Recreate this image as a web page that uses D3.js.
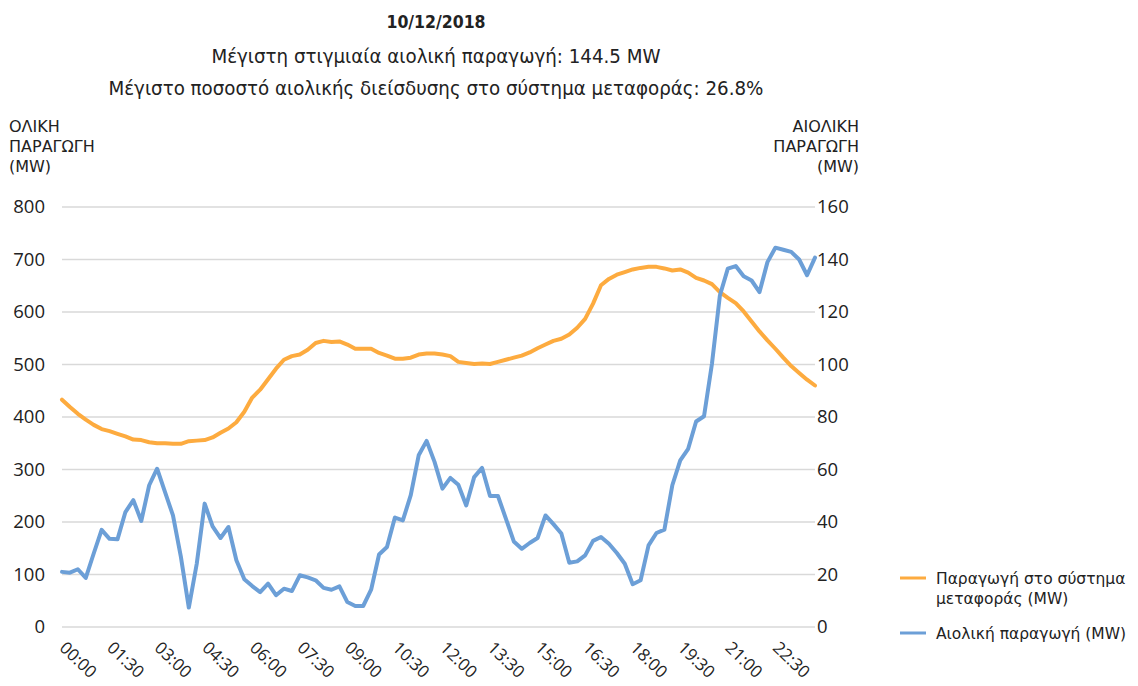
<!DOCTYPE html>
<html>
<head>
<meta charset="utf-8">
<script src="https://cdn.jsdelivr.net/npm/d3@7"></script>
<style>
  html, body { margin: 0; padding: 0; background: #fff; }
  svg { display: block; }
</style>
</head>
<body>
<svg id="chart" width="1138" height="686"></svg>
<script>
// ---------- DATA ----------
const times = [
"00:00","00:15","00:30","00:45","01:00","01:15","01:30","01:45","02:00","02:15","02:30","02:45",
"03:00","03:15","03:30","03:45","04:00","04:15","04:30","04:45","05:00","05:15","05:30","05:45",
"06:00","06:15","06:30","06:45","07:00","07:15","07:30","07:45","08:00","08:15","08:30","08:45",
"09:00","09:15","09:30","09:45","10:00","10:15","10:30","10:45","11:00","11:15","11:30","11:45",
"12:00","12:15","12:30","12:45","13:00","13:15","13:30","13:45","14:00","14:15","14:30","14:45",
"15:00","15:15","15:30","15:45","16:00","16:15","16:30","16:45","17:00","17:15","17:30","17:45",
"18:00","18:15","18:30","18:45","19:00","19:15","19:30","19:45","20:00","20:15","20:30","20:45",
"21:00","21:15","21:30","21:45","22:00","22:15","22:30","22:45","23:00","23:15","23:30","23:45"];

const tickLabels = ["00:00","01:30","03:00","04:30","06:00","07:30","09:00","10:30",
                    "12:00","13:30","15:00","16:30","18:00","19:30","21:00","22:30"];

const totalMW = [433,419,406,395,385,377,373,368,363,357,356,352,350,350,349,349,
354,355,356,361,370,378,390,410,437,452,472,492,509,516,519,528,
541,545,543,544,538,530,530,530,522,517,511,511,513,519,521,521,
519,516,505,503,501,502,501,505,509,513,517,523,531,538,545,549,
557,570,587,616,651,663,671,676,681,684,686,686,683,679,681,675,
665,660,653,638,627,617,601,582,563,546,530,513,497,484,471,460];

const windMW = [21,20.7,22,18.7,28,37,33.6,33.4,43.8,48.3,40.4,54,60.3,51.4,42.5,26.7,
7.4,24.1,47,38.3,33.9,38.1,25.4,18.2,15.6,13.3,16.5,12.1,14.6,13.7,19.7,18.9,
17.8,14.9,14.2,15.5,9.5,8.0,8.0,14.2,27.6,30.5,41.7,40.6,50.2,65.4,70.9,62.9,
52.7,56.8,54.2,46.3,57.1,60.6,49.9,49.9,41.3,32.6,29.8,32,33.9,42.5,39.2,35.6,
24.5,25,27.3,32.8,34.3,31.7,28.2,24.1,16.3,17.8,31.1,35.8,37.1,54,63.5,67.9,
78.3,80.3,100.3,126.3,136.5,137.5,133.6,132,127.6,139,144.5,143.7,142.9,140,134,140.7];

const leftTicks = [0,100,200,300,400,500,600,700,800];
const rightTicks = [0,20,40,60,80,100,120,140,160];

const titleLines = ["10/12/2018",
  "Μέγιστη στιγμιαία αιολική παραγωγή: 144.5 MW",
  "Μέγιστο ποσοστό αιολικής διείσδυσης στο σύστημα μεταφοράς: 26.8%"];
const leftAxisTitle = ["ΟΛΙΚΗ","ΠΑΡΑΓΩΓΗ","(MW)"];
const rightAxisTitle = ["ΑΙΟΛΙΚΗ","ΠΑΡΑΓΩΓΗ","(MW)"];
const legendItems = [
  {lines:["Παραγωγή στο σύστημα","μεταφοράς (MW)"], color:"#FDAB3F"},
  {lines:["Αιολική παραγωγή (MW)"], color:"#6C9FD7"}
];

// ---------- CHART ----------
const svg = d3.select("#chart");
const bodyFont = "'Open Sans', 'DejaVu Sans', sans-serif";
const compactFont = "'DejaVu Sans', 'Open Sans', sans-serif";
const titleFont = "'DejaVu Sans Condensed', 'Liberation Sans Narrow', sans-serif";
const textColor = "#222";

const x = d3.scalePoint().domain(times).range([62, 815]);
const yL = d3.scaleLinear().domain([0, 800]).range([627, 207]);
const yR = d3.scaleLinear().domain([0, 160]).range([627, 207]);

// Titles
const tSizes = [17.5, 20.3, 20.3];
const tBase = [28, 63, 95];
const tWeights = ["bold", "normal", "normal"];
titleLines.forEach((t, i) => {
  svg.append("text").attr("x", 436).attr("y", tBase[i])
    .attr("text-anchor", "middle")
    .attr("font-family", titleFont).attr("font-size", tSizes[i])
    .attr("font-weight", tWeights[i]).attr("fill", textColor)
    .text(t);
});

// Gridlines
svg.append("g").selectAll("line").data(leftTicks).join("line")
  .attr("x1", 62).attr("x2", 815)
  .attr("y1", d => yL(d)).attr("y2", d => yL(d))
  .attr("stroke", "#d9d9d9").attr("stroke-width", 1.5);

// Left axis
const axL = svg.append("g").attr("transform", "translate(45,0)")
  .call(d3.axisLeft(yL).tickValues(leftTicks).tickSize(0).tickPadding(0));
axL.select(".domain").remove();
axL.selectAll("text").attr("font-family", bodyFont).attr("font-size", 18.5)
  .attr("fill", textColor);

// Right axis
const axR = svg.append("g").attr("transform", "translate(817,0)")
  .call(d3.axisRight(yR).tickValues(rightTicks).tickSize(0).tickPadding(0));
axR.select(".domain").remove();
axR.selectAll("text").attr("font-family", bodyFont).attr("font-size", 18.5)
  .attr("fill", textColor);

// X axis
const axX = svg.append("g").attr("transform", "translate(0,627)")
  .call(d3.axisBottom(x).tickValues(tickLabels).tickSize(0).tickPadding(0));
axX.select(".domain").remove();
axX.selectAll("text")
  .attr("font-family", bodyFont).attr("font-size", 17).attr("fill", textColor)
  .attr("text-anchor", "start")
  .attr("dy", 0).attr("y", 0)
  .attr("transform", "translate(-4,22) rotate(44)");

// Multi-line text helper
function multiline(xPos, yPos, lines, anchor, size, gap, font) {
  const t = svg.append("text").attr("x", xPos).attr("y", yPos)
    .attr("text-anchor", anchor)
    .attr("font-family", font).attr("font-size", size).attr("fill", textColor);
  lines.forEach((l, i) => {
    t.append("tspan").attr("x", xPos).attr("dy", i === 0 ? 0 : gap).text(l);
  });
  return t;
}
multiline(9, 132, leftAxisTitle, "start", 16, 20, compactFont);
multiline(859, 132, rightAxisTitle, "end", 16, 20, compactFont);

// Lines
const lineL = d3.line().x((d, i) => x(times[i])).y(d => yL(d)).curve(d3.curveLinear);
const lineR = d3.line().x((d, i) => x(times[i])).y(d => yR(d)).curve(d3.curveLinear);

svg.append("path").datum(totalMW).attr("d", lineL)
  .attr("fill", "none").attr("stroke", legendItems[0].color)
  .attr("stroke-width", 4).attr("stroke-linejoin", "round").attr("stroke-linecap", "round");
svg.append("path").datum(windMW).attr("d", lineR)
  .attr("fill", "none").attr("stroke", legendItems[1].color)
  .attr("stroke-width", 4).attr("stroke-linejoin", "round").attr("stroke-linecap", "round");

// Legend
const legY = [578, 633];
legendItems.forEach((it, k) => {
  svg.append("line").attr("x1", 900).attr("x2", 926)
    .attr("y1", legY[k]).attr("y2", legY[k])
    .attr("stroke", it.color).attr("stroke-width", 3);
  multiline(936, legY[k] + 6, it.lines, "start", 15.5, 20, compactFont);
});
</script>
</body>
</html>
